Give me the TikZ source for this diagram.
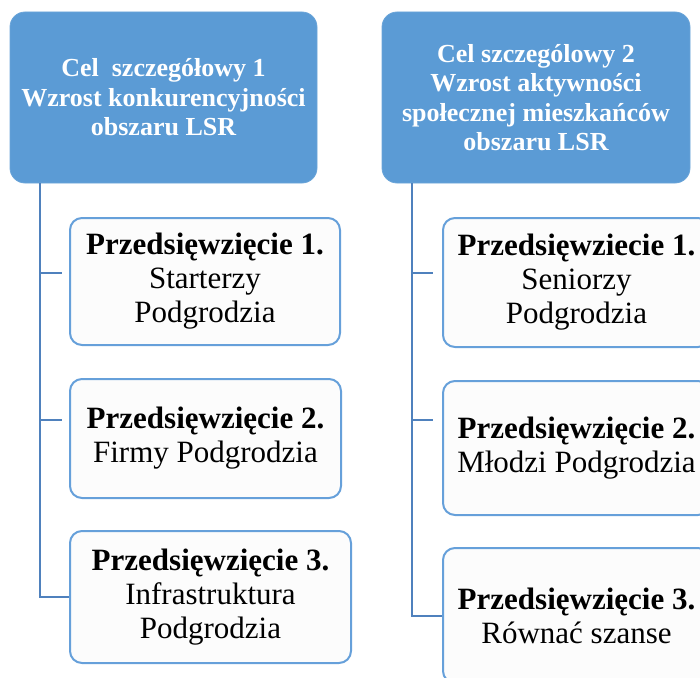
\documentclass[tikz,border=0pt]{standalone}
\usepackage{fontspec}
\setmainfont{Liberation Serif}
\definecolor{topfill}{HTML}{5B9BD5}
\definecolor{boxline}{HTML}{66A0DA}
\definecolor{connline}{HTML}{4F81BD}
\definecolor{boxfill}{HTML}{FCFCFC}
\begin{document}
\begin{tikzpicture}[x=1pt,y=-1pt,
  goal/.style={rectangle, rounded corners=15pt, fill=topfill, draw=topfill!90!white, line width=0.8pt,
    text=white, align=center, inner sep=0pt,
    font=\fontsize{26}{29.5}\selectfont\bfseries},
  task/.style={rectangle, rounded corners=12pt, fill=boxfill, draw=boxline, line width=2pt,
    text=black, align=center, inner sep=0pt,
    font=\fontsize{31}{34}\selectfont},
  conn/.style={draw=connline, line width=2pt}]
\useasboundingbox (0,0) rectangle (700,677);
\begin{scope}
\clip (0,0) rectangle (700,677);
\node[goal, minimum width=307pt, minimum height=171pt] (TL) at (163.5,97.5)
  {Cel~~szczegółowy 1\\Wzrost konkurencyjności\\obszaru LSR};
\node[goal, minimum width=308pt, minimum height=171pt] (TR) at (536,97.5)
  {Cel szczególowy 2\\Wzrost aktywności\\społecznej mieszkańców\\obszaru LSR};

\node[task, minimum width=270pt, minimum height=127pt] (L1) at (205,281.5)
  {\textbf{Przedsięwzięcie 1.}\\Starterzy\\Podgrodzia};
\node[task, minimum width=271pt, minimum height=119pt] (L2) at (205.5,438.5)
  {\textbf{Przedsięwzięcie 2.}\\Firmy Podgrodzia};
\node[task, minimum width=281pt, minimum height=132pt] (L3) at (210.5,597)
  {\textbf{Przedsięwzięcie 3.}\\Infrastruktura\\Podgrodzia};

\node[task, minimum width=267pt, minimum height=129pt] (R1) at (576.5,282.5)
  {\textbf{Przedsięwziecie 1.}\\Seniorzy\\Podgrodzia};
\node[task, minimum width=267pt, minimum height=134pt] (R2) at (576.5,448)
  {\textbf{Przedsięwzięcie 2.}\\Młodzi Podgrodzia};
\node[task, minimum width=267pt, minimum height=135pt] (R3) at (576.5,615.5)
  {\textbf{Przedsięwzięcie 3.}\\Równać szanse};

% left connectors
\coordinate (LT) at ([xshift=30pt]TL.south west);
\coordinate (LS1) at (62,273);
\coordinate (LS2) at (62,420);
\draw[conn] (LT) |- (L3.west);
\draw[conn] (LT |- LS1) -- (LS1);
\draw[conn] (LT |- LS2) -- (LS2);

% right connectors
\coordinate (RT) at ([xshift=30pt]TR.south west);
\coordinate (RS1) at (433,273);
\coordinate (RS2) at (433,420);
\draw[conn] (RT) |- (R3.west);
\draw[conn] (RT |- RS1) -- (RS1);
\draw[conn] (RT |- RS2) -- (RS2);
\end{scope}
\end{tikzpicture}
\end{document}
